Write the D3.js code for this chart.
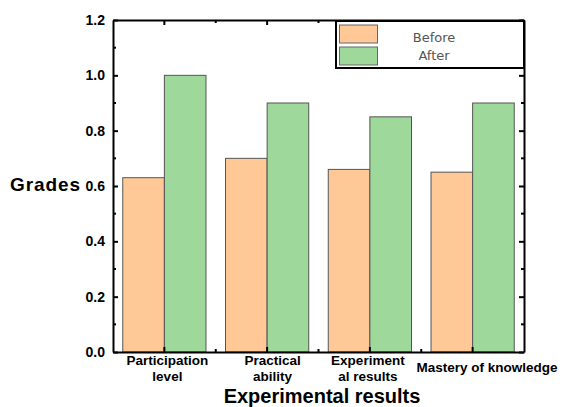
<!DOCTYPE html>
<html><head><meta charset="utf-8">
<script src="https://cdn.jsdelivr.net/npm/d3@7/dist/d3.min.js"></script>
<style>body{margin:0;background:#fff}svg{display:block}</style>
</head><body>
<script>
const categories = [["Participation","level"],["Practical","ability"],["Experiment","al results"],["Mastery of knowledge"]];
const seriesNames = ["Before","After"];
const before = [0.63, 0.70, 0.66, 0.65];
const after = [1.0, 0.90, 0.85, 0.90];
const yTicks = [0, 0.2, 0.4, 0.6, 0.8, 1.0, 1.2];
const colors = ["#FFC896", "#9ED89A"];

(function(){
const W = 564, H = 407;
const m = {l:113, r:40, t:20, b:55};
const svg = d3.select("body").append("svg").attr("width", W).attr("height", H);
const x = d3.scaleBand().domain(d3.range(categories.length)).range([m.l, W - m.r]);
const bw = x.bandwidth();
const x1 = d3.scaleBand().domain([0,1]).range([bw*0.095, bw*0.905]);
const y = d3.scaleLinear().domain([0, 1.2]).range([H - m.b, m.t]);
const font = "'Liberation Sans', Arial, sans-serif";

const series = [before, after];
series.forEach((vals, si) => {
  svg.append("g").selectAll("rect").data(vals).join("rect")
    .attr("x", (d,i) => x(i) + x1(si))
    .attr("width", x1.bandwidth())
    .attr("y", d => y(d))
    .attr("height", d => y(0) - y(d))
    .attr("fill", colors[si])
    .attr("stroke", "#555").attr("stroke-width", 1);
});

const minorY = d3.range(0.1, 1.2, 0.2);
const axL = d3.axisLeft(y).tickValues(yTicks).tickFormat(d3.format(".1f")).tickSizeInner(-5).tickSizeOuter(0).tickPadding(8);
const gL = svg.append("g").attr("transform", `translate(${m.l},0)`).call(axL);
gL.selectAll("text").attr("font-family", font).attr("font-weight", "bold").attr("font-size", 14).attr("fill", "#000");
gL.selectAll(".mn").data(minorY).join("line").attr("x1",0).attr("x2",3).attr("y1",d=>y(d)).attr("y2",d=>y(d)).attr("stroke","#000").attr("stroke-width",2);

const axR = d3.axisRight(y).tickValues(yTicks).tickFormat("").tickSizeInner(-5).tickSizeOuter(0);
const gR = svg.append("g").attr("transform", `translate(${W - m.r},0)`).call(axR);
gR.selectAll(".mn").data(minorY).join("line").attr("x1",0).attr("x2",-3).attr("y1",d=>y(d)).attr("y2",d=>y(d)).attr("stroke","#000").attr("stroke-width",2);

const centers = d3.range(categories.length).map(i => x(i) + bw/2);
const minorX = d3.range(1, categories.length).map(i => x(i));
const axB = d3.axisBottom(x).tickFormat("").tickSizeInner(-5).tickSizeOuter(0);
const gB = svg.append("g").attr("transform", `translate(0,${H - m.b})`).call(axB);
gB.selectAll(".mn").data(minorX).join("line").attr("x1",d=>d).attr("x2",d=>d).attr("y1",0).attr("y2",-3).attr("stroke","#000").attr("stroke-width",2);
const axT = d3.axisTop(x).tickFormat("").tickSizeInner(-5).tickSizeOuter(0);
const gT = svg.append("g").attr("transform", `translate(0,${m.t})`).call(axT);
gT.selectAll(".mn").data(minorX).join("line").attr("x1",d=>d).attr("x2",d=>d).attr("y1",0).attr("y2",3).attr("stroke","#000").attr("stroke-width",2);

[gL,gR,gB,gT].forEach(g => { g.select(".domain").attr("stroke","#000").attr("stroke-width",2); g.selectAll(".tick line").attr("stroke","#000").attr("stroke-width",2); });

const offs = [3, 5.5, -2, 14.5];
categories.forEach((lines, i) => {
  const t = svg.append("text").attr("text-anchor","middle").attr("font-family",font).attr("font-weight","bold").attr("font-size",13.5).attr("fill","#000");
  const cx = centers[i] + offs[i];
  if (lines.length === 1) {
    t.attr("x", cx).attr("y", 372).text(lines[0]);
  } else {
    lines.forEach((ln, k) => t.append("tspan").attr("x", cx).attr("y", 365 + k*15.5).text(ln));
  }
});

svg.append("text").attr("x", 322).attr("y", 403).attr("text-anchor","middle").attr("font-family",font).attr("font-weight","bold").attr("font-size",20).text("Experimental results");
svg.append("text").attr("x", 10).attr("y", 191).attr("font-family",font).attr("font-weight","bold").attr("font-size",19).attr("textLength",70).text("Grades");

const lg = svg.append("g");
lg.append("rect").attr("x", 336).attr("y", 21).attr("width", W - m.r - 336).attr("height", 47).attr("fill","#fff").attr("stroke","#000").attr("stroke-width",2);
seriesNames.forEach((n, i) => {
  lg.append("rect").attr("x", 339.5).attr("y", 25 + i*22).attr("width", 38).attr("height", 18).attr("fill", colors[i]).attr("stroke","#666").attr("stroke-width",1);
  lg.append("text").attr("x", 434).attr("y", 41.5 + i*18.5).attr("text-anchor","middle").attr("font-family","'DejaVu Sans', sans-serif").attr("font-size",13).attr("fill","#555").text(n);
});
})();
</script>
</body></html>
